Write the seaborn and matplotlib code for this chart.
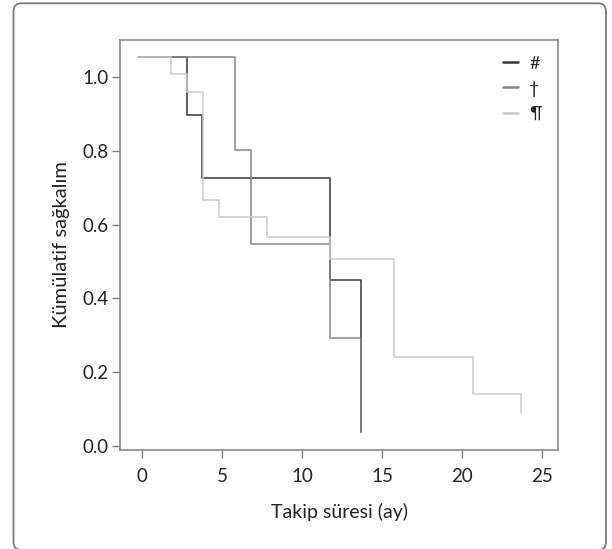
import matplotlib
matplotlib.use("Agg")
import matplotlib.pyplot as plt
from matplotlib.patches import FancyBboxPatch
import seaborn as sns
import pandas as pd

# Kaplan-Meier basamaklari
groups = ["#", "†", "¶"]
time_a = [-0.2, 2.77, 3.7, 11.73, 13.7]
surv_a = [1.054, 0.897, 0.727, 0.450, 0.04]
time_b = [-0.2, 5.78, 6.77, 11.73, 13.7]
surv_b = [1.054, 0.801, 0.548, 0.293, 0.04]
time_c = [-0.2, 1.8, 2.8, 3.77, 4.77, 7.77, 11.73, 15.73, 20.7, 23.7]
surv_c = [1.054, 1.006, 0.958, 0.667, 0.619, 0.566, 0.507, 0.241, 0.141, 0.09]
x_ticks = [0, 5, 10, 15, 20, 25]
y_ticks = [0.0, 0.2, 0.4, 0.6, 0.8, 1.0]

df = pd.concat([
    pd.DataFrame({"time": time_a, "surv": surv_a, "grup": groups[0]}),
    pd.DataFrame({"time": time_b, "surv": surv_b, "grup": groups[1]}),
    pd.DataFrame({"time": time_c, "surv": surv_c, "grup": groups[2]}),
], ignore_index=True)

sns.set_style("ticks")
plt.rcParams["font.family"] = ["Lato", "DejaVu Sans"]

fig = plt.figure(figsize=(6.12, 5.49), dpi=100)
ax = fig.add_axes([0.196, 0.180, 0.716, 0.748])

palette = {"#": "#363636", "†": "#858585", "¶": "#c9c9c9"}
sns.lineplot(data=df, x="time", y="surv", hue="grup", palette=palette,
             estimator=None, sort=False, drawstyle="steps-post",
             linewidth=1.1, ax=ax)

ax.set_xlim(-1.4, 26)
ax.set_ylim(-0.01, 1.10)
ax.set_xticks(x_ticks)
ax.set_yticks(y_ticks)
ax.set_yticklabels([f"{v:.1f}" for v in y_ticks])
ax.tick_params(labelsize=13.5, length=5.5, width=1.0, color="#808080",
               labelcolor="#222222")
ax.tick_params(axis="x", pad=7.5)
ax.tick_params(axis="y", pad=2.5)
for s in ax.spines.values():
    s.set_color("#808080")
    s.set_linewidth(1.1)
ax.set_xlabel("Takip süresi (ay)", fontsize=14, color="#222222", labelpad=13)
ax.set_ylabel("Kümülatif sağkalım", fontsize=14.5, color="#222222", labelpad=9)

leg = ax.legend(loc="upper right", frameon=False, fontsize=13,
                handlelength=0.85, handletextpad=0.6, labelspacing=0.5,
                borderaxespad=0.5, title=None)
for h in leg.get_lines():
    h.set_linewidth(1.8)

# dis cerceve
fig.patches.append(FancyBboxPatch((13.5, -1.0), 592.5, 546.7, transform=None,
                                  boxstyle="round,pad=0,rounding_size=8",
                                  fill=False, edgecolor="#7a7a7a", linewidth=1.3))

fig.savefig("out.png", dpi=100)
plt.close(fig)
